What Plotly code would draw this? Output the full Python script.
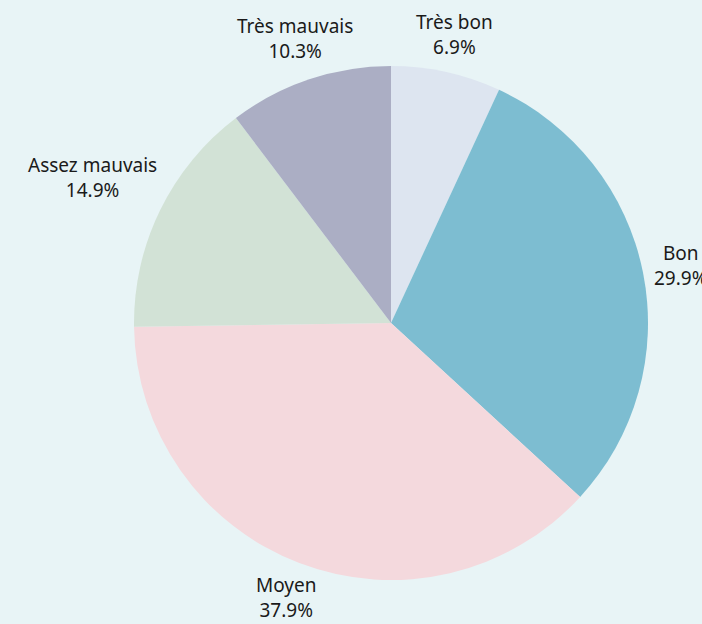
import math
import plotly.graph_objects as go

labels = ["Très bon", "Bon", "Moyen", "Assez mauvais", "Très mauvais"]
values = [6.9, 29.9, 37.9, 14.9, 10.3]
colors = ["#dde5f0", "#7dbdd1", "#f4d9dd", "#d2e2d6", "#abaec4"]

# layout geometry (pixels)
W, H = 702, 624
CX, CY, R = 391, 323, 257
GAP = 13          # distance from pie edge to label box
LINE_H = 48       # height of a two-line label
CHAR_W = 10.5     # approximate average glyph width for label boxes
FONT = dict(size=19, color="#1a1a1a", family="Noto Sans")

fig = go.Figure(go.Pie(
    labels=labels,
    values=values,
    sort=False,
    direction="clockwise",
    rotation=0,
    marker=dict(colors=colors, line=dict(width=0)),
    textinfo="none",
    showlegend=False,
    hoverinfo="label+value",
    domain=dict(x=[(CX - R) / W, (CX + R) / W], y=[1 - (CY + R) / H, 1 - (CY - R) / H]),
))

# outside labels centred along each slice's mid-angle (clockwise from top)
total = sum(values)
cum = 0.0
for lab, val in zip(labels, values):
    mid = (cum + val / 2) / total * 2 * math.pi
    cum += val
    txt_lines = [lab, f"{val:.1f}%"]
    box_w = max(len(t) for t in txt_lines) * CHAR_W
    vx, vy = math.sin(mid), math.cos(mid)          # vy: up positive
    ell = math.hypot(vx * box_w / 2, vy * LINE_H / 2)
    d = R + GAP + ell
    px = CX + d * vx
    py = CY - d * vy
    fig.add_annotation(
        x=px / W, y=1 - py / H, xref="paper", yref="paper",
        text="<br>".join(txt_lines),
        showarrow=False, xanchor="center", yanchor="middle",
        font=FONT, align="center",
    )

fig.update_layout(
    width=W, height=H,
    paper_bgcolor="#e8f4f6",
    plot_bgcolor="#e8f4f6",
    margin=dict(l=0, r=0, t=0, b=0),
    font=FONT,
)

fig.write_html(
    "out.html",
    config={"displayModeBar": False},
    post_script="document.body.style.margin='0';document.body.style.overflow='hidden';document.body.style.background='#e8f4f6';",
)
